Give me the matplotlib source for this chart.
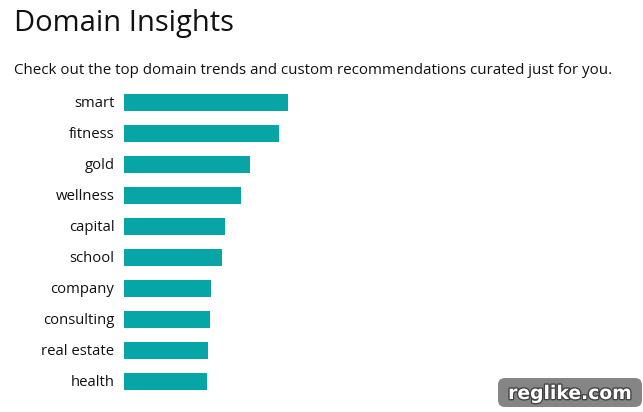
import matplotlib
matplotlib.use("Agg")
import matplotlib.pyplot as plt
import matplotlib.patheffects as pe
from matplotlib.patches import FancyBboxPatch

terms = ["smart","fitness","gold","wellness","capital","school","company","consulting","real estate","health"]
scores = [164,155,126,117,101,98,87,86,84,83]

W,H=643,412
plt.rcParams['font.family']=['Open Sans','DejaVu Sans']
fig=plt.figure(figsize=(W/100,H/100),dpi=100,facecolor="white")
ax=fig.add_axes([124/W,1-397/H,(320-124)/W,(397-87)/H])
y=list(range(len(terms)))
ax.barh(y,scores,height=0.52,color="#08a5a7")
ax.set_xlim(0,196)
ax.set_ylim(len(terms)-0.5,-0.5)
ax.set_yticks(y,terms,fontsize=10.7,color="#111111")
ax.tick_params(axis='y',length=0,pad=7)
for t in ax.get_yticklabels():
    t.set_transform(t.get_transform()+matplotlib.transforms.ScaledTranslation(0,1/100,fig.dpi_scale_trans))
ax.xaxis.set_visible(False)
for s in ax.spines.values(): s.set_visible(False)
fig.text(14/W,1-23.5/H,"Domain Insights",fontsize=21,va="center",ha="left",color="#111111")
fig.text(14/W,1-70/H,"Check out the top domain trends and custom recommendations curated just for you.",fontsize=10.88,va="center",ha="left",color="#111111")
ov=fig.add_axes([0,0,1,1],facecolor="none")
ov.set_xlim(0,W);ov.set_ylim(H,0);ov.axis("off")
ov.add_patch(FancyBboxPatch((498,378),144,29,boxstyle="round,pad=0,rounding_size=7",fc="#858585",ec="none"))
ov.text(570,393.5,"reglike.com",color="white",fontsize=13.5,fontweight="bold",ha="center",va="center",family=["DejaVu Sans"],
        path_effects=[pe.withStroke(linewidth=2,foreground="#444444")])
fig.savefig("out.png",dpi=100)
